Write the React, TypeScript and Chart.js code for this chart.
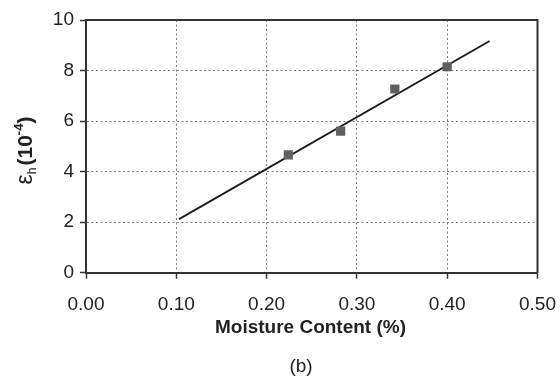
import React, { useEffect, useRef } from "react";
import { Chart, registerables } from "chart.js";

Chart.register(...registerables);

const moisture = [0.224, 0.282, 0.342, 0.4];
const strain = [4.66, 5.6, 7.27, 8.15];
const fitX = [0.103, 0.447];
const fitY = [2.12, 9.17];
const xTitle = "Moisture Content (%)";
const caption = "(b)";

const FONT = '"Liberation Sans", Arial, sans-serif';
const TXT = "#222";

const textPlugin = {
  id: "texts",
  afterDraw(chart: any) {
    const ctx = chart.ctx;
    const ca = chart.chartArea;
    ctx.save();
    // box top and right
    ctx.strokeStyle = "#333";
    ctx.lineWidth = 2;
    ctx.beginPath();
    ctx.moveTo(ca.left, ca.top);
    ctx.lineTo(ca.right, ca.top);
    ctx.lineTo(ca.right, ca.bottom);
    ctx.stroke();

    ctx.fillStyle = TXT;
    // x title
    ctx.font = `bold 19px ${FONT}`;
    ctx.textAlign = "center";
    ctx.textBaseline = "alphabetic";
    ctx.fillText(xTitle, 310.5, 333);
    // caption
    ctx.font = `19px ${FONT}`;
    ctx.fillText(caption, 301, 372);

    // y title rotated: ε_h(10^-4)
    const parts = [
      { t: "ε", font: `23px ${FONT}`, dy: 0, gap: 0 },
      { t: "h", font: `12px ${FONT}`, dy: 4, gap: 2 },
      { t: "(10", font: `bold 21px ${FONT}`, dy: 0, gap: 0 },
      { t: "-4", font: `bold 13px ${FONT}`, dy: -9, gap: 0 },
      { t: ")", font: `bold 21px ${FONT}`, dy: 0, gap: 0 },
    ];
    let total = 0;
    const widths: number[] = [];
    for (const p of parts) {
      ctx.font = p.font;
      const w = ctx.measureText(p.t).width + p.gap;
      widths.push(w);
      total += w;
    }
    ctx.translate(31.5, 150.5);
    ctx.rotate(-Math.PI / 2);
    ctx.textAlign = "left";
    let x = -total / 2;
    parts.forEach((p, i) => {
      ctx.font = p.font;
      ctx.fillText(p.t, x, p.dy);
      x += widths[i];
    });
    ctx.restore();
  },
};

function App() {
  const ref = useRef<HTMLCanvasElement | null>(null);
  useEffect(() => {
    document.body.style.margin = "0";
    const chart = new Chart(ref.current as HTMLCanvasElement, {
      type: "scatter",
      data: {
        datasets: [
          {
            label: "fit",
            data: fitX.map((x, i) => ({ x, y: fitY[i] })),
            showLine: true,
            borderColor: "#1a1a1a",
            borderWidth: 1.8,
            pointRadius: 0,
            order: 2,
          },
          {
            label: "data",
            data: moisture.map((x, i) => ({ x, y: strain[i] })),
            pointStyle: "rect",
            pointRadius: 6.5,
            backgroundColor: "#606060",
            borderColor: "#606060",
            borderWidth: 0,
            order: 1,
          },
        ],
      },
      plugins: [textPlugin],
      options: {
        animation: false,
        responsive: false,
        maintainAspectRatio: false,
        layout: { padding: { top: 20, right: 22.5, left: 0, bottom: 0 } },
        plugins: { legend: { display: false }, tooltip: { enabled: false }, title: { display: false } },
        scales: {
          x: {
            type: "linear",
            min: 0,
            max: 0.5,
            afterFit: (s: any) => {
              s.height = 108.3;
              s.paddingLeft = 0;
              s.paddingRight = 0;
            },
            ticks: {
              stepSize: 0.1,
              callback: (v: any) => Number(v).toFixed(2),
              color: TXT,
              font: { family: FONT, size: 19 },
              padding: 15,
              maxRotation: 0,
            },
            grid: {
              color: "#7a7a7a",
              lineWidth: 1,
              tickLength: 6,
              tickColor: "#333",
              tickWidth: 1.5,
            },
            border: { color: "#333", width: 2, dash: [2, 2.5] },
          },
          y: {
            min: 0,
            max: 10,
            afterFit: (s: any) => {
              s.width = 86;
              s.paddingTop = 0;
              s.paddingBottom = 0;
            },
            ticks: {
              stepSize: 2,
              color: TXT,
              font: { family: FONT, size: 19 },
              padding: 6,
            },
            grid: {
              color: "#7a7a7a",
              lineWidth: 1,
              tickLength: 6,
              tickColor: "#333",
              tickWidth: 1.5,
            },
            border: { color: "#333", width: 2, dash: [2, 2.5] },
          },
        },
      },
    });
    return () => chart.destroy();
  }, []);
  return (
    <div style={{ position: "relative", width: 560, height: 381, background: "#fff" }}>
      <canvas ref={ref} width={560} height={381} style={{ width: 560, height: 381 }} />
    </div>
  );
}

export default App;
